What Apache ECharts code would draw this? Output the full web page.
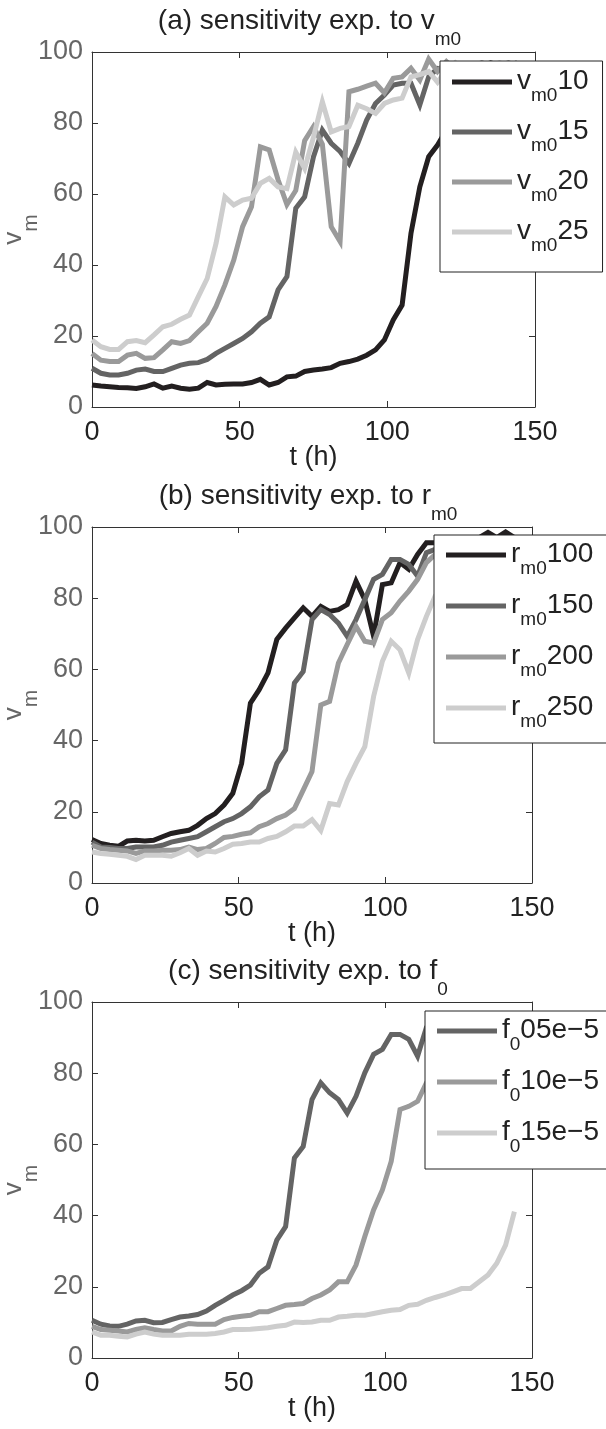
<!DOCTYPE html>
<html><head><meta charset="utf-8">
<script src="https://cdn.jsdelivr.net/npm/echarts@6/dist/echarts.min.js"></script>
<style>html,body{margin:0;padding:0;background:#fff}#c{width:606px;height:1429px}</style>
</head><body><div id="c"></div>
<script>
// ---- data ----
const hours = [0,3,6,9,12,15,18,21,24,27,30,33,36,39,42,45,48,51,54,57,60,63,66,69,72,75,78,81,84,87,90,93,96,99,102,105,108,111,114,117,120,123,126,129,132,135,138,141,144];
const xTicks = [0,50,100,150];
const yTicks = [0,20,40,60,80,100];

// (a) sensitivity to v_m0
const vm10 = [6.2,5.9,5.7,5.5,5.4,5.2,5.7,6.5,5.3,5.9,5.3,5.0,5.3,6.9,6.2,6.4,6.5,6.5,6.9,7.8,6.2,6.9,8.5,8.7,10.0,10.4,10.7,11.1,12.3,12.8,13.5,14.6,16.1,18.9,24.5,28.7,48.9,62.0,70.5,73.8,78,82,86,89,91,92,93,94,95];
const vm15 = [10.9,9.5,9.0,9.0,9.5,10.4,10.7,10.0,10.0,10.9,11.8,12.3,12.5,13.4,15.1,16.5,17.9,19.3,21.2,23.6,25.4,33.0,36.7,56.0,59.2,70.5,78.0,74.3,72.0,68.6,74.3,80.8,85.5,87.9,90.7,91.2,91.2,85.1,93.0,95.4,95,96,95,96,96,97,96,96,97];
const vm20 = [15.1,13.2,12.8,12.8,14.6,15.1,13.7,13.9,16.1,18.4,17.9,18.7,21.2,23.6,28.3,34.4,41.4,50.8,56.4,73.3,72.4,64.0,57.0,61.0,75.0,79.0,74.0,50.8,46.6,88.8,89.5,90.4,91.2,88.5,92.6,93.0,95.4,92.1,98.0,94.5,97.3,95,96,96,97,96,96,97,96];
const vm25 = [18.9,17.0,16.2,16.2,18.4,18.7,18.1,20.3,22.6,23.3,24.7,25.9,31.1,36.2,46.1,59.2,56.9,58.3,58.8,63.0,64.4,62.0,61.5,71.8,67.2,76.0,86.0,77.5,78.5,79.0,85.0,84.0,82.7,85.5,86.5,87.0,93.0,93.6,94.5,91.5,95,97,95,96,96,96,97,96,96];

// (b) sensitivity to r_m0
const rm100 = [12.2,11.1,10.6,10.3,11.8,12.0,11.8,12.0,13.0,13.9,14.4,14.8,16.2,18.1,19.5,21.9,25.2,33.6,50.5,54.3,59.0,68.4,71.6,74.5,77.3,74.9,77.7,76.3,76.8,78.2,84.8,79.6,69.3,83.8,84.3,90.0,88.1,92.3,95.6,95.6,96,97,96,97,97,98.5,97,98.6,97];
const rm150 = [11.5,10.1,10.0,9.7,9.7,10.1,10.1,10.1,10.6,11.5,12.0,12.5,13.0,14.4,15.8,17.2,18.1,19.5,21.4,24.2,26.1,33.6,37.4,56.2,59.4,74.0,76.8,75.4,73.0,69.3,74.0,79.6,85.3,86.7,90.9,90.9,89.5,86.2,92.8,93.7,95,96,95,96,96,97,96,96,97];
const rm200 = [10.6,9.7,9.4,9.2,9.0,8.3,9.0,9.0,9.2,9.2,9.4,10.1,9.4,9.7,11.1,12.8,13.1,13.7,14.1,15.8,16.7,18.1,19.1,20.9,26.1,31.3,50.0,51.0,61.8,67.0,72.1,67.9,67.4,74.0,75.9,79.2,82.0,85.3,90.0,92.3,93,94,95,95,96,96,96,97,96];
const rm250 = [8.7,8.3,8.1,7.8,7.5,6.6,7.8,7.8,7.8,7.5,8.5,9.7,7.8,9.0,8.7,9.7,10.9,11.1,11.5,11.5,12.5,13.1,14.4,16.0,16.0,17.8,14.8,22.3,21.9,28.5,33.6,38.3,52.4,62.3,67.9,65.5,59.0,68.4,74.9,80.6,84,88,90,92,93,94,95,95,96];

// (c) sensitivity to f_0
const f05 = [10.6,9.5,9.0,8.9,9.5,10.4,10.6,9.9,10.0,10.8,11.5,11.8,12.2,13.2,14.8,16.2,17.7,18.9,20.5,23.8,25.6,33.1,36.9,56.2,59.4,72.6,77.3,74.5,72.6,68.8,73.5,80.1,85.3,86.7,90.9,90.9,89.5,84.8,92.8,94,95,96,95,96,96,95,96,96,96];
const f10 = [8.9,8.0,7.8,7.6,7.3,8.0,8.5,8.0,7.6,7.6,8.9,9.7,9.5,9.5,9.5,10.8,11.4,11.7,12.0,13.0,13.0,13.9,14.8,15.0,15.3,16.7,17.7,19.1,21.4,21.4,26.1,34.1,41.6,47.2,55.2,69.8,70.7,72.1,77.3,80,84,88,90,92,93,94,95,95,95];
const f15 = [7.3,6.4,6.4,6.1,5.9,6.7,7.3,6.7,6.4,6.4,6.4,6.7,6.7,6.7,6.9,7.3,8.0,8.0,8.1,8.3,8.5,8.9,9.2,10.1,10.0,10.1,10.6,10.6,11.5,11.7,12.0,12.0,12.5,13.0,13.4,13.6,14.8,15.1,16.2,17.0,17.7,18.6,19.5,19.5,21.4,23.3,26.6,31.7,41.1];

const panelTitles = [
  ['(a) sensitivity exp. to v', 'm0'],
  ['(b) sensitivity exp. to r', 'm0'],
  ['(c) sensitivity exp. to f', '0']
];
const legendBase = [['v','m0'],['r','m0'],['f','0']];
const legendSuffix = [['10','15','20','25'],['100','150','200','250'],['05e\u22125','10e\u22125','15e\u22125']];
const panelSeries = [[vm10,vm15,vm20,vm25],[rm100,rm150,rm200,rm250],[f05,f10,f15]];
const grayBlack = '#231f20', grayDark = '#646464', grayMid = '#9a9a9a', grayLight = '#cdcdcd';
const panelColors = [[grayBlack,grayDark,grayMid,grayLight],[grayBlack,grayDark,grayMid,grayLight],[grayDark,grayMid,grayLight]];

// ---- layout ----
const FF = '"Liberation Sans", Arial, Helvetica, sans-serif';
const grids = [
  {left:92, top:52, width:443, height:355},
  {left:92, top:527, width:440, height:356},
  {left:92, top:1002, width:440, height:356}
];
const titleTops = [7, 482, 957];
const legendPos = [
  {left:440, top:61, padding:[6,14,11,12], gap:6},
  {left:434, top:535, padding:[5,14,6,12], gap:7},
  {left:425, top:1011, padding:[5,14,7,12], gap:7}
];
const axisColor = '#333';

const xAxis = [], yAxis = [], series = [], legend = [], title = [];
const richLegend = {
  m:{fontSize:28, lineHeight:30, verticalAlign:'top', fontFamily:FF, fontWeight:'normal', color:'#222'},
  s:{fontSize:19, lineHeight:20, verticalAlign:'top', padding:[19,0,6,0], fontFamily:FF, fontWeight:'normal', color:'#222'}
};
const richTitle = {
  m:{fontSize:28, lineHeight:30, verticalAlign:'top', fontFamily:FF, fontWeight:'normal', color:'#222'},
  s:{fontSize:19, lineHeight:20, verticalAlign:'top', padding:[23,0,0,0], fontFamily:FF, fontWeight:'normal', color:'#222'}
};
const richYName = {
  v:{fontSize:26, lineHeight:28, verticalAlign:'top', color:'#666', fontFamily:FF},
  s:{fontSize:21, lineHeight:20, verticalAlign:'top', padding:[20,0,0,0], color:'#666', fontFamily:FF}
};

grids.forEach((g, i) => {
  g.containLabel = false; g.outerBoundsMode = 'none';
  const tickStyle = {inside:true, length:6, lineStyle:{color:axisColor, width:1}};
  xAxis.push({gridIndex:i, type:'value', min:xTicks[0], max:xTicks[xTicks.length-1], interval:50,
    axisLine:{show:true, onZero:false, lineStyle:{color:axisColor, width:1}}, axisTick:tickStyle,
    axisLabel:{color:'#222', fontSize:27, fontFamily:FF, margin:12},
    splitLine:{show:false},
    name:'t (h)', nameLocation:'middle', nameGap:37, nameMoveOverlap:false,
    nameTextStyle:{color:'#222', fontSize:27, fontFamily:FF}});
  xAxis.push({gridIndex:i, type:'value', position:'top', min:0, max:150, interval:50,
    axisLine:{show:true, onZero:false, lineStyle:{color:axisColor, width:1}}, axisTick:tickStyle,
    axisLabel:{show:false}, splitLine:{show:false}});
  yAxis.push({gridIndex:i, type:'value', min:yTicks[0], max:yTicks[yTicks.length-1], interval:20,
    axisLine:{show:true, onZero:false, lineStyle:{color:axisColor, width:1}}, axisTick:tickStyle,
    axisLabel:{color:'#666', fontSize:27, fontFamily:FF, margin:9},
    splitLine:{show:false},
    name:'{v|v}{s|m}', nameLocation:'middle', nameRotate:90, nameGap:63, nameMoveOverlap:false,
    nameTextStyle:{rich:richYName}});
  yAxis.push({gridIndex:i, type:'value', position:'right', min:0, max:100, interval:20,
    axisLine:{show:true, onZero:false, lineStyle:{color:axisColor, width:1}}, axisTick:tickStyle,
    axisLabel:{show:false}, splitLine:{show:false}});

  const names = [];
  panelSeries[i].forEach((vals, j) => {
    const name = legendBase[i][0] + legendBase[i][1] + ' ' + legendSuffix[i][j];
    names.push(name);
    series.push({type:'line', name, xAxisIndex:2*i, yAxisIndex:2*i, showSymbol:false, symbol:'none',
      data: hours.map((t, k) => [t, vals[k]]),
      itemStyle:{color:panelColors[i][j]},
      lineStyle:{color:panelColors[i][j], width:5, join:'miter'},
      animation:false, z:2});
  });
  const lp = legendPos[i];
  legend.push({orient:'vertical', left:lp.left, top:lp.top, padding:lp.padding, data:names,
    icon:'rect', itemWidth:60, itemHeight:5, itemGap:lp.gap, itemTextGap:6,
    borderColor:'#222', borderWidth:1, borderRadius:0, backgroundColor:'#fff', selectedMode:false, z:10,
    textStyle:{fontFamily:FF, fontSize:28, color:'#222', rich:richLegend},
    formatter: (nm) => { const j = names.indexOf(nm); return '{m|' + legendBase[i][0] + '}{s|' + legendBase[i][1] + '}{m|' + legendSuffix[i][j] + '}'; }});
  title.push({text:'{m|' + panelTitles[i][0] + '}{s|' + panelTitles[i][1] + '}', left: g.left + g.width/2 - 4, top:titleTops[i],
    textAlign:'center', padding:0,
    textStyle:{fontWeight:'normal', rich:richTitle}});
});

const chart = echarts.init(document.getElementById('c'), null, {renderer:'canvas'});
chart.setOption({animation:false, backgroundColor:'#fff', title, grid:grids, xAxis, yAxis, legend, series});
</script></body></html>
